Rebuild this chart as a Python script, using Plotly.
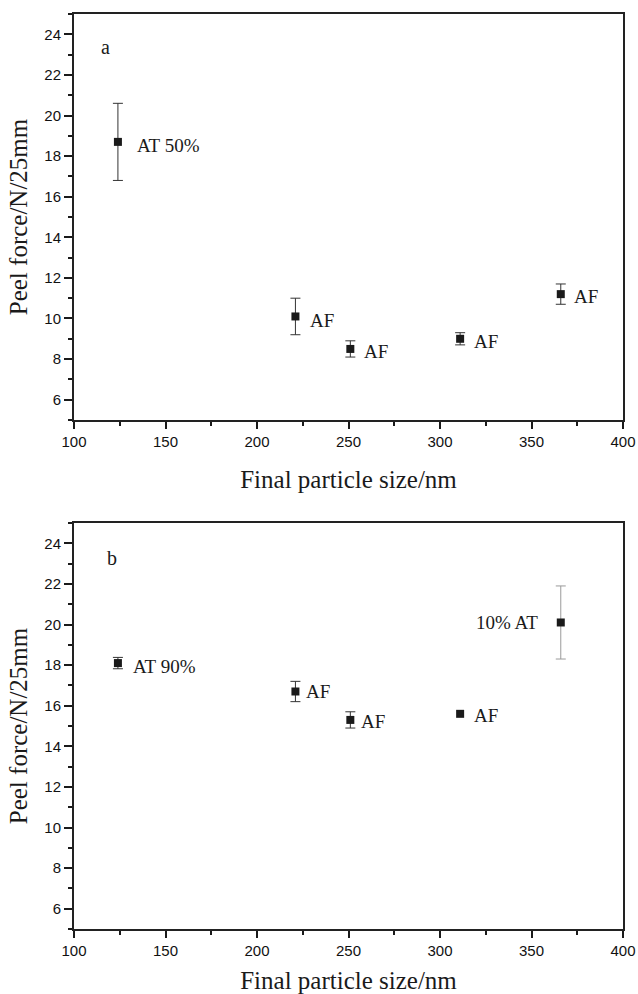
import plotly.graph_objects as go

# ---- data ----
size_a = [124, 221, 251, 311, 366]
force_a = [18.7, 10.1, 8.5, 9.0, 11.2]
err_a = [1.9, 0.9, 0.4, 0.3, 0.5]
labels_a = ["AT 50%", "AF", "AF", "AF", "AF"]

size_b = [124, 221, 251, 311, 366]
force_b = [18.1, 16.7, 15.3, 15.6, 20.1]
err_b = [0.28, 0.5, 0.4, 0.0, 1.8]
labels_b = ["AT 90%", "AF", "AF", "AF", "10% AT"]

panel_letters = ["a", "b"]
x_title = "Final particle size/nm"
y_title = "Peel force/N/25mm"

# ---- style ----
SERIF = "Liberation Serif, Times New Roman, serif"
SANS = "Liberation Sans, Arial, sans-serif"
INK = "#1a1a1a"

# label placement (pixels): (xshift, yshift, anchor)
place_a = [(17, -4, "left"), (13, -4, "left"), (12, -3, "left"), (12, -3, "left"), (11, -2, "left")]
place_b = [(13, -3, "left"), (9, 0, "left"), (9, -2, "left"), (12, -2, "left"), (-21, 0, "right")]

fig = go.Figure()

def add_panel(xs, ys, es, xa, ya, err_colors):
    for i in range(len(xs)):
        fig.add_trace(go.Scatter(
            x=[xs[i]], y=[ys[i]], mode="markers",
            marker=dict(symbol="square", size=8, color=INK),
            error_y=dict(type="data", array=[es[i]], visible=es[i] > 0,
                         color=err_colors[i], thickness=1, width=5),
            xaxis=xa, yaxis=ya, showlegend=False, hoverinfo="x+y"))

add_panel(size_a, force_a, err_a, "x", "y", ["#333333"] * 5)
add_panel(size_b, force_b, err_b, "x2", "y2", ["#333333"] * 4 + ["#9a9a9a"])

annotations = []
for xs, ys, labs, places, xr, yr in [
        (size_a, force_a, labels_a, place_a, "x", "y"),
        (size_b, force_b, labels_b, place_b, "x2", "y2")]:
    for x, y, t, (dx, dy, anc) in zip(xs, ys, labs, places):
        annotations.append(dict(x=x, y=y, xref=xr, yref=yr, text=t, showarrow=False,
                                xanchor=anc, yanchor="middle", xshift=dx, yshift=dy,
                                font=dict(family=SERIF, size=19, color=INK)))

annotations.append(dict(x=0.058, y=0.919, xref="x domain", yref="y domain",
                        text=panel_letters[0], showarrow=False, xanchor="center", yanchor="middle",
                        font=dict(family=SERIF, size=20, color=INK)))
annotations.append(dict(x=0.069, y=0.913, xref="x2 domain", yref="y2 domain",
                        text=panel_letters[1], showarrow=False, xanchor="center", yanchor="middle",
                        font=dict(family=SERIF, size=20, color=INK)))

xaxis_common = dict(range=[100, 400], tickvals=[100, 150, 200, 250, 300, 350, 400],
                    ticks="outside", ticklen=7, tickwidth=1.5, tickcolor=INK,
                    minor=dict(dtick=25, ticks="outside", ticklen=4, tickwidth=1.5, tickcolor=INK),
                    showline=True, linewidth=2, linecolor="#222222", mirror=True,
                    showgrid=False, zeroline=False, automargin=False,
                    tickfont=dict(family=SANS, size=15, color="#111111"),
                    title=dict(text=x_title, font=dict(family=SERIF, size=25, color=INK), standoff=22))
yaxis_common = dict(range=[5, 25], tickvals=[6, 8, 10, 12, 14, 16, 18, 20, 22, 24],
                    ticks="outside", ticklen=8, tickwidth=1.5, tickcolor=INK,
                    minor=dict(dtick=1, tick0=5, ticks="outside", ticklen=4, tickwidth=1.5, tickcolor=INK),
                    showline=True, linewidth=2, linecolor="#222222", mirror=True,
                    showgrid=False, zeroline=False, automargin=False,
                    tickfont=dict(family=SANS, size=15, color="#111111"),
                    title=dict(text=y_title, font=dict(family=SERIF, size=25, color=INK), standoff=10))

fig.update_layout(
    width=638, height=994,
    margin=dict(l=74, r=15, t=14, b=65),
    paper_bgcolor="white", plot_bgcolor="white",
    xaxis=dict(**xaxis_common, domain=[0, 1], anchor="y"),
    yaxis=dict(**yaxis_common, domain=[0.5563, 1], anchor="x"),
    xaxis2=dict(**xaxis_common, domain=[0, 1], anchor="y2"),
    yaxis2=dict(**yaxis_common, domain=[0, 0.4437], anchor="x2"),
    annotations=annotations,
)

fig.write_html("out.html", config={"displayModeBar": False},
               post_script="document.body.style.margin='0';document.body.style.overflow='hidden';")
